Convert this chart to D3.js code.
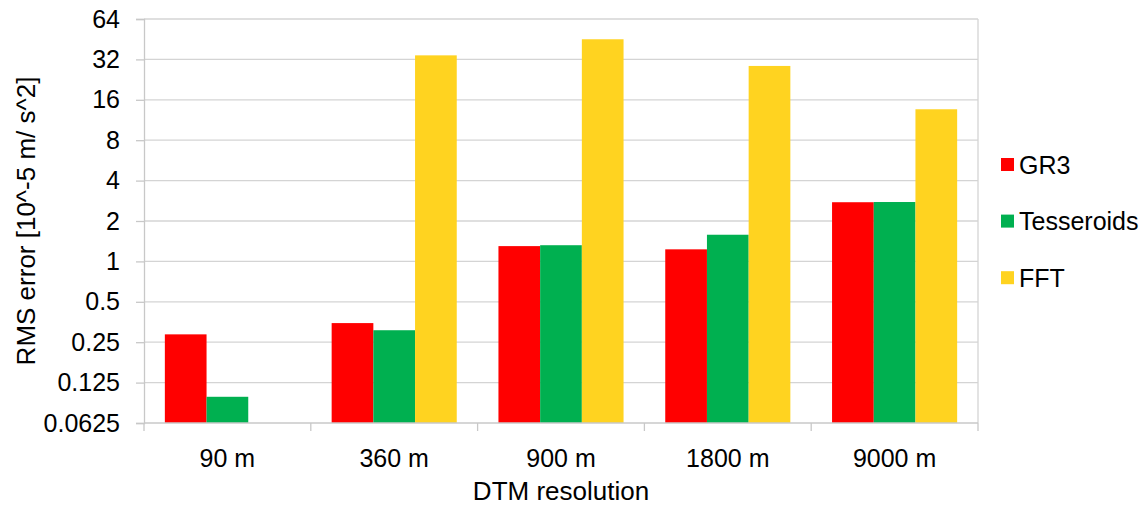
<!DOCTYPE html>
<html lang="en">
<head>
    <meta charset="UTF-8">
    <title>RMS error vs DTM resolution</title>
    <style>
        body {
            margin: 0;
            background-color: #ffffff;
            font-family: "Liberation Sans", Arial, sans-serif;
        }
        .grid line {
            stroke: #d4d4d4;
            stroke-width: 1.3px;
        }
        .axis path, .axis line {
            stroke: #c8c8c8;
            stroke-width: 1.3px;
        }
        .axis text {
            fill: #000;
        }
    </style>
</head>
<body>
    <div id="chart"></div>
    <script src="https://d3js.org/d3.v7.min.js"></script>
    <script>
        // Data
        const resolutions = ["90 m", "360 m", "900 m", "1800 m", "9000 m"];
        const seriesNames = ["GR3", "Tesseroids", "FFT"];
        const gr3 = [0.286, 0.347, 1.30, 1.23, 2.76];
        const tesseroids = [0.098, 0.307, 1.32, 1.58, 2.77];
        const fft = [null, 34.3, 45.2, 28.6, 13.6];
        const yTicks = [0.0625, 0.125, 0.25, 0.5, 1, 2, 4, 8, 16, 32, 64];
        const colors = ["#ff0000", "#00b050", "#ffd320"];

        const width = 1143;
        const height = 506;
        const margin = {top: 19, right: 165, bottom: 83, left: 144};

        const svg = d3.select("#chart").append("svg")
            .attr("width", width)
            .attr("height", height);

        const x = d3.scaleBand()
            .domain(resolutions)
            .range([margin.left, width - margin.right])
            .paddingInner(0.25)
            .paddingOuter(0.125);

        const xInner = d3.scaleBand()
            .domain(seriesNames)
            .range([0, x.bandwidth()]);

        const y = d3.scaleLog()
            .base(2)
            .domain([0.0625, 64])
            .range([height - margin.bottom, margin.top]);

        // gridlines
        svg.append("g")
            .attr("class", "grid")
            .selectAll("line")
            .data(yTicks.slice(1))
            .join("line")
            .attr("x1", margin.left)
            .attr("x2", width - margin.right)
            .attr("y1", d => y(d))
            .attr("y2", d => y(d));

        // right border of plot area
        svg.append("line")
            .attr("x1", width - margin.right)
            .attr("x2", width - margin.right)
            .attr("y1", margin.top)
            .attr("y2", height - margin.bottom)
            .attr("stroke", "#d4d4d4")
            .attr("stroke-width", 1.3);

        // bars
        const rows = resolutions.map((r, i) => ({
            res: r,
            values: [gr3[i], tesseroids[i], fft[i]]
        }));

        const groups = svg.append("g")
            .selectAll("g")
            .data(rows)
            .join("g")
            .attr("transform", d => `translate(${x(d.res)},0)`);

        groups.selectAll("rect")
            .data(d => d.values.map((v, j) => ({name: seriesNames[j], value: v, j: j})).filter(d => d.value != null))
            .join("rect")
            .attr("x", d => xInner(d.name))
            .attr("width", xInner.bandwidth())
            .attr("y", d => y(d.value))
            .attr("height", d => y.range()[0] - y(d.value))
            .attr("fill", d => colors[d.j]);

        // y axis
        const yAxis = svg.append("g")
            .attr("class", "axis")
            .attr("transform", `translate(${margin.left},0)`)
            .call(d3.axisLeft(y).tickValues(yTicks).tickFormat(d => String(d)).tickSize(8).tickPadding(16));
        yAxis.selectAll("text").style("font-size", "25px");

        // x axis: ticks at category boundaries
        const xAxis = svg.append("g")
            .attr("class", "axis")
            .attr("transform", `translate(0,${height - margin.bottom})`)
            .call(d3.axisBottom(x).tickSize(0).tickPadding(26));
        xAxis.select(".domain").attr("d", `M${margin.left},0H${width - margin.right}`);
        xAxis.selectAll("text").style("font-size", "25px");

        const step = x.step();
        const boundaries = d3.range(resolutions.length + 1).map(i => margin.left + i * step);
        xAxis.selectAll(".bound")
            .data(boundaries)
            .join("line")
            .attr("class", "bound")
            .attr("y1", 0)
            .attr("y2", 8)
            .attr("x1", d => d)
            .attr("x2", d => d);

        // axis titles
        svg.append("text")
            .attr("x", margin.left + (width - margin.right - margin.left) / 2)
            .attr("y", 500)
            .attr("text-anchor", "middle")
            .style("font-size", "26px")
            .text("DTM resolution");

        svg.append("text")
            .attr("transform", `translate(35,${(margin.top + height - margin.bottom) / 2}) rotate(-90)`)
            .attr("text-anchor", "middle")
            .style("font-size", "26px")
            .text("RMS error [10^-5 m/ s^2]");

        // legend
        const legend = svg.append("g")
            .selectAll("g")
            .data(seriesNames)
            .join("g")
            .attr("transform", (d, i) => `translate(1001,${164.5 + i * 56.6})`);

        legend.append("rect")
            .attr("x", 0)
            .attr("y", -6.5)
            .attr("width", 13)
            .attr("height", 13)
            .attr("fill", (d, i) => colors[i]);

        legend.append("text")
            .attr("x", 18)
            .attr("y", 9)
            .style("font-size", "25px")
            .text(d => d);
    </script>
</body>
</html>
